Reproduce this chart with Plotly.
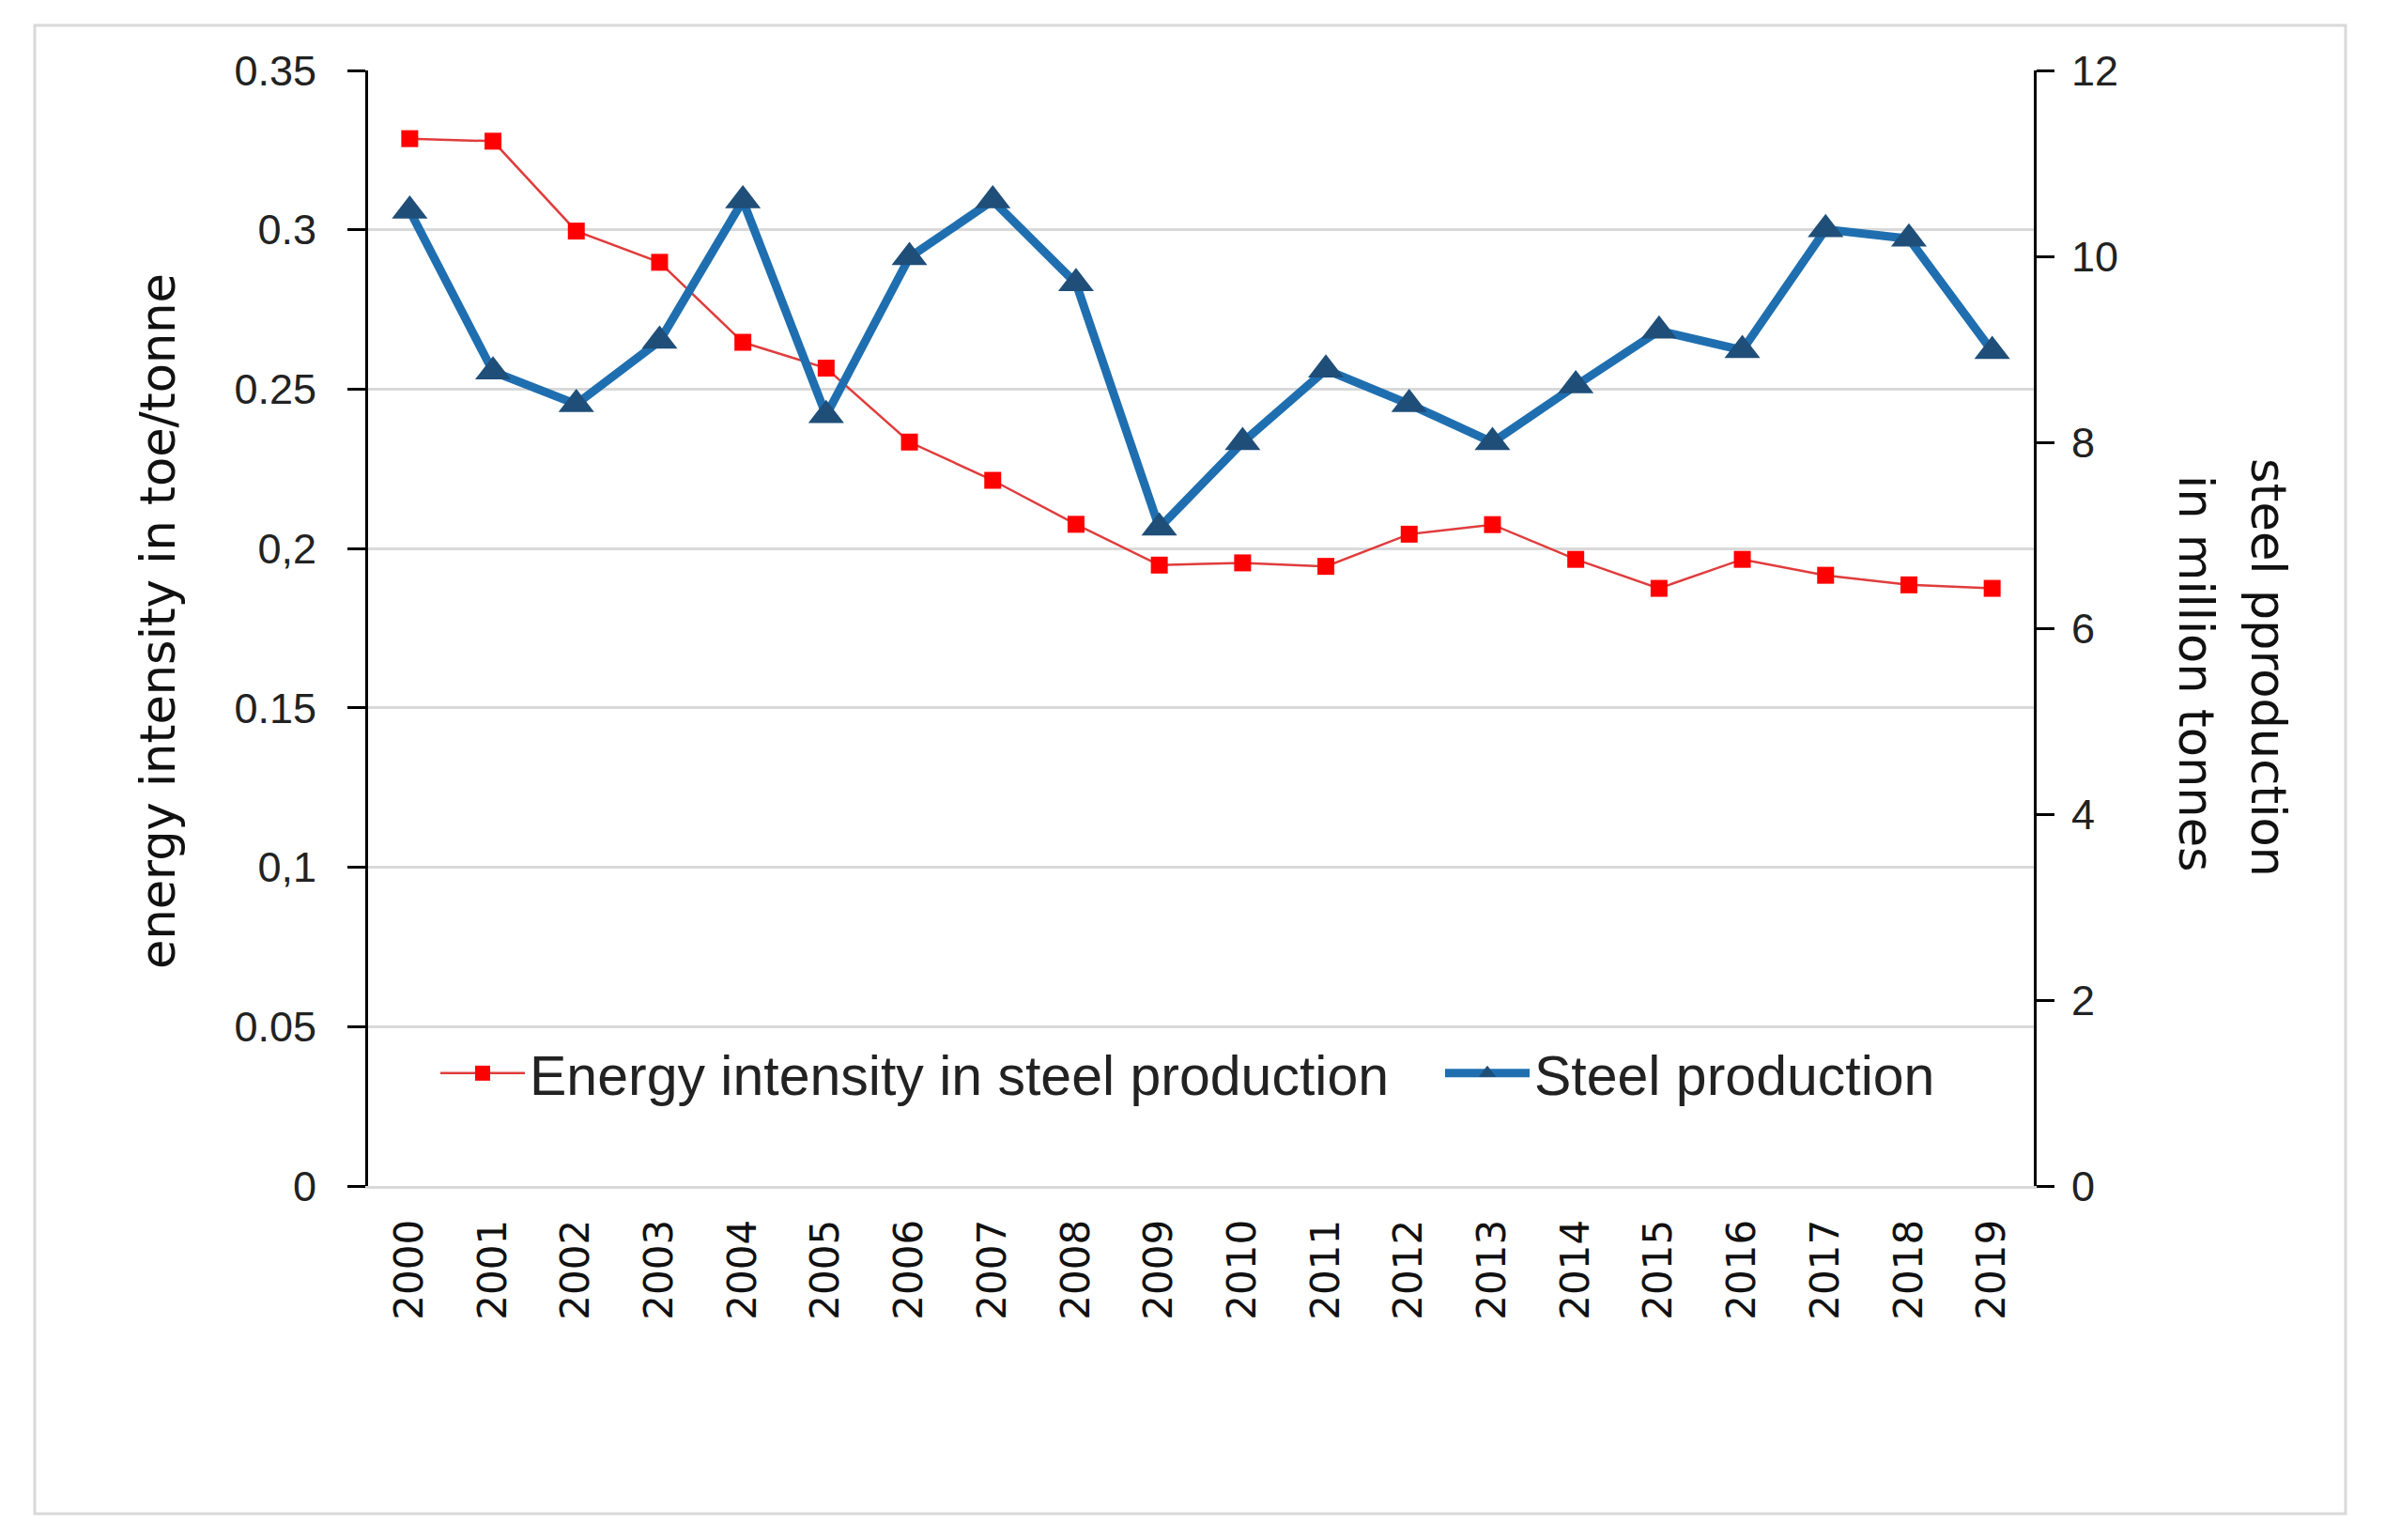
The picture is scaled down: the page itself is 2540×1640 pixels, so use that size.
import plotly.graph_objects as go

years = [str(y) for y in range(2000, 2020)]
energy_intensity = [0.3286, 0.3278, 0.2996, 0.2898, 0.2647, 0.2566, 0.2334, 0.2214, 0.2076, 0.1948,
                    0.1955, 0.1944, 0.2045, 0.2075, 0.1966, 0.1875, 0.1966, 0.1916, 0.1886, 0.1875]
steel_production = [10.49, 8.76, 8.41, 9.09, 10.6, 8.29, 9.99, 10.6, 9.71, 7.08,
                    8.0, 8.78, 8.41, 8.0, 8.61, 9.2, 8.99, 10.29, 10.19, 8.98]

left_tickvals = [0, 0.05, 0.1, 0.15, 0.2, 0.25, 0.3, 0.35]
left_ticktext = ["0", "0.05", "0,1", "0.15", "0,2", "0.25", "0.3", "0.35"]
right_tickvals = [0, 2, 4, 6, 8, 10, 12]

name_energy = "Energy intensity in steel production"
name_steel = "Steel production"
left_title = "energy intensity in toe/tonne"
right_title_1 = "steel pproduction"
right_title_2 = "in million tonnes"

W, H = 2540, 1640
L, R, T, B = 392, 2166, 75, 1263

tick_font = dict(family="Liberation Sans, Arial, sans-serif", size=45, color="#222222")
title_font = dict(family="DejaVu Sans, Verdana, sans-serif", size=51, color="#111111")
legend_font = dict(family="Liberation Sans, Arial, sans-serif", size=59, color="#222222")

fig = go.Figure()
fig.add_trace(go.Scatter(
    x=years, y=energy_intensity, name=name_energy, mode="lines+markers", yaxis="y",
    line=dict(color="#e03c3c", width=2.5),
    marker=dict(symbol="square", size=18, color="#ff0000", line=dict(width=0)),
    legend="legend",
))
fig.add_trace(go.Scatter(
    x=years, y=steel_production, name=name_steel, mode="lines+markers", yaxis="y2",
    line=dict(color="#1f6fb0", width=9),
    marker=dict(symbol="triangle-up", size=33, color="#1f4e79", line=dict(width=0)),
    legend="legend2",
))

def px_x(px):
    return (px - L) / (R - L)

def px_y(py):
    return (B - py) / (B - T)

fig.update_layout(
    width=W, height=H, autosize=False,
    margin=dict(l=L, r=W - R, t=T, b=H - B, pad=0),
    paper_bgcolor="white", plot_bgcolor="white",
    showlegend=True,
    legend=dict(
        orientation="h", x=px_x(464), y=px_y(1143), xanchor="left", yanchor="middle",
        bgcolor="rgba(0,0,0,0)", font=legend_font, itemwidth=90,
    ),
    legend2=dict(
        orientation="h", x=px_x(1534), y=px_y(1143), xanchor="left", yanchor="middle",
        bgcolor="rgba(0,0,0,0)", font=legend_font, itemwidth=90,
    ),
    xaxis=dict(
        type="category", range=[-0.5, 19.5], tickangle=-90,
        tickfont=dict(family="DejaVu Sans, Verdana, sans-serif", size=42, color="#111111"),
        showline=True, linecolor="#d9d9d9", linewidth=3, ticks="", showgrid=False,
        zeroline=False, ticklabelstandoff=16,
    ),
    yaxis=dict(
        range=[0, 0.35], tickvals=left_tickvals, ticktext=left_ticktext, tickfont=tick_font,
        showline=True, linecolor="black", linewidth=3, ticks="outside", ticklen=19,
        tickwidth=3, tickcolor="black", showgrid=True, gridcolor="#d9d9d9", gridwidth=3,
        zeroline=False, ticklabelstandoff=24,
    ),
    yaxis2=dict(
        range=[0, 12], tickvals=right_tickvals, tickfont=tick_font, overlaying="y", side="right",
        showline=True, linecolor="black", linewidth=3, ticks="outside", ticklen=19,
        tickwidth=3, tickcolor="black", showgrid=False, zeroline=False, ticklabelstandoff=9,
    ),
    shapes=[
        dict(
            type="rect", xref="paper", yref="paper", layer="below",
            x0=px_x(37), x1=px_x(2498), y0=px_y(1612), y1=px_y(27),
            line=dict(color="#d9d9d9", width=3), fillcolor="rgba(0,0,0,0)",
        ),
        # legend box background (hides part of the 0.05 gridline, as in the original)
        dict(
            type="rect", xref="paper", yref="paper", layer="between",
            x0=px_x(409), x1=px_x(2100), y0=px_y(1235), y1=px_y(1062),
            line=dict(width=0), fillcolor="white",
        ),
    ],
    annotations=[
        dict(text=left_title, xref="paper", yref="paper", x=px_x(168), y=px_y(662),
             xanchor="center", yanchor="middle", textangle=-90, showarrow=False, font=title_font),
        dict(text=right_title_1, xref="paper", yref="paper", x=px_x(2416), y=px_y(711),
             xanchor="center", yanchor="middle", textangle=90, showarrow=False, font=title_font),
        dict(text=right_title_2, xref="paper", yref="paper", x=px_x(2339), y=px_y(717),
             xanchor="center", yanchor="middle", textangle=90, showarrow=False, font=title_font),
    ],
)

fig.write_html(
    "out.html",
    config={"displayModeBar": False},
    post_script="document.body.style.margin='0';document.body.style.overflow='hidden';",
)
